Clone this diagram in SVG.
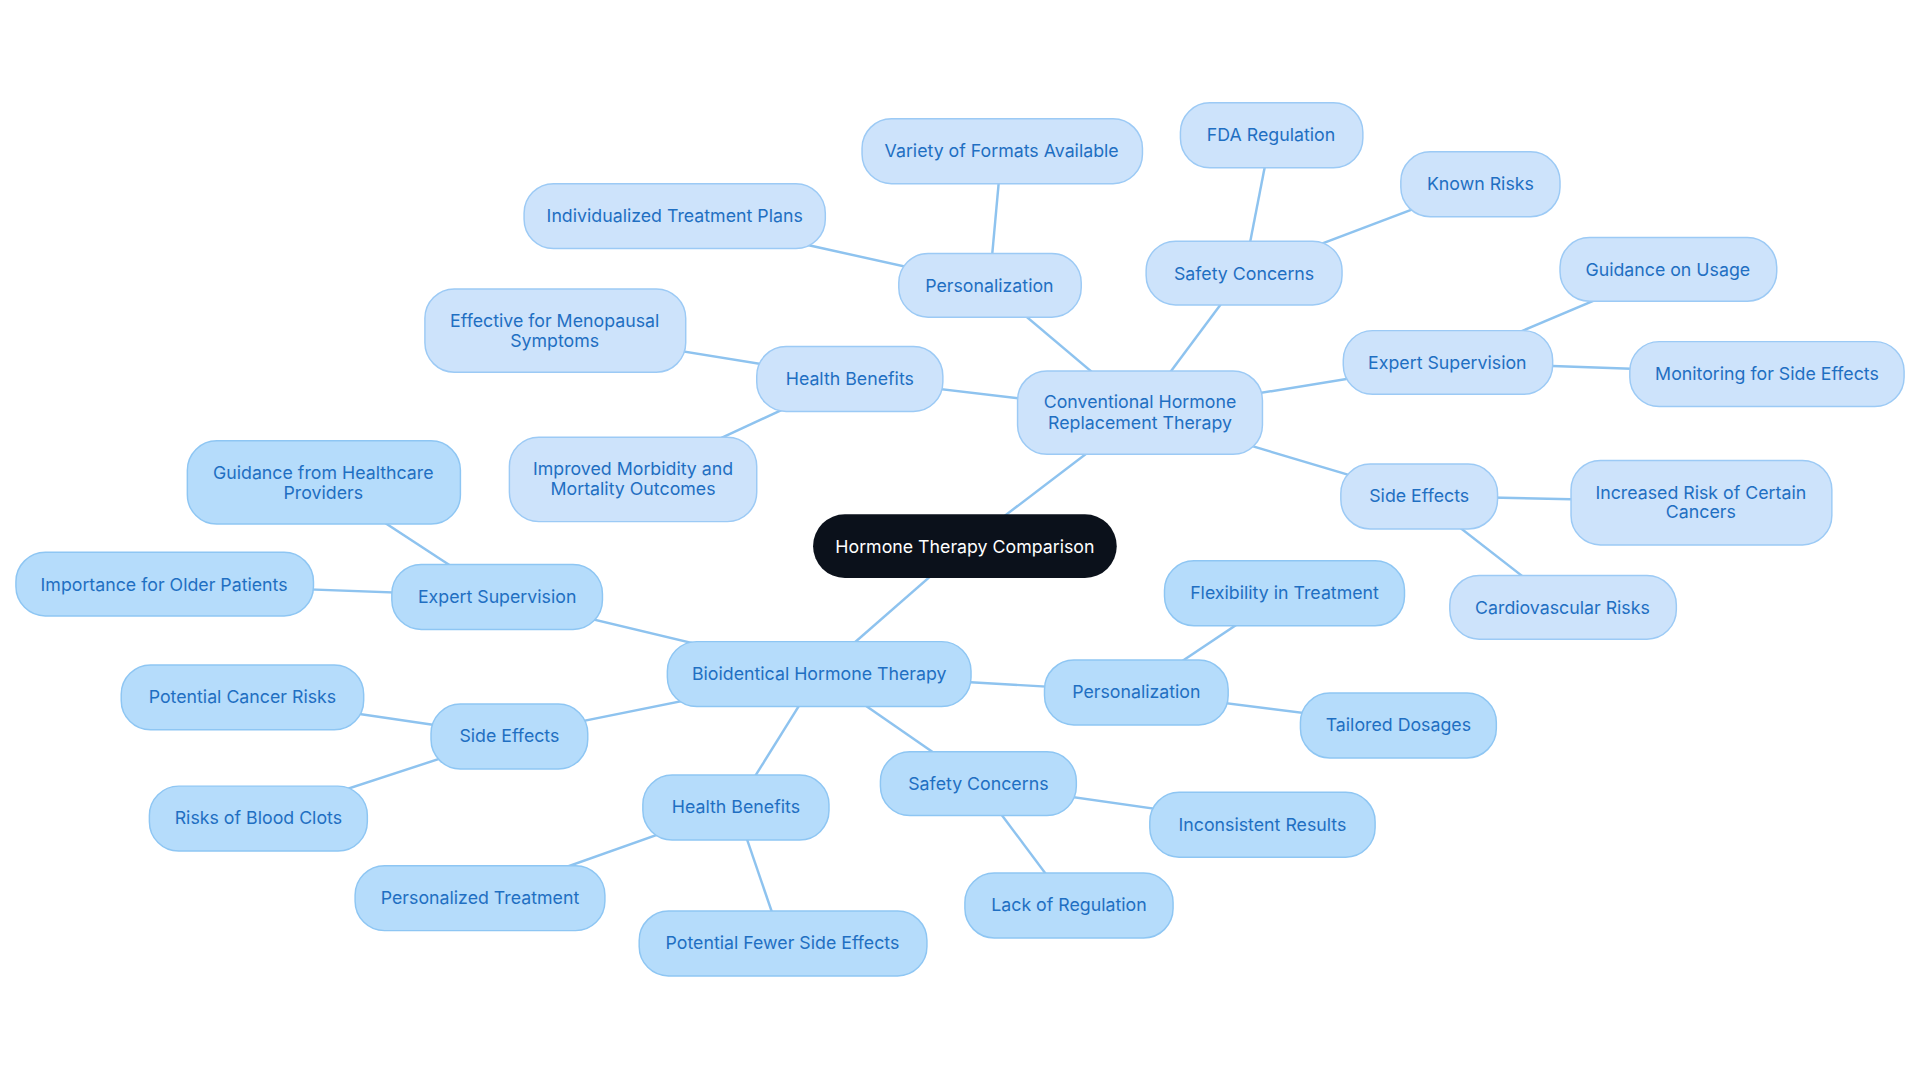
<svg xmlns="http://www.w3.org/2000/svg" width="1920" height="1083" viewBox="0 0 1920 1083">
<style>
.e line{stroke:#8ec3ef;stroke-width:2}
.c rect{fill:#cde3fb;stroke:#9ccaf5;stroke-width:1.2}
.b rect{fill:#b5dcfb;stroke:#8ec6f3;stroke-width:1.2}
text{font-family:Inter,"Noto Sans",sans-serif;font-size:14.5px;fill:#1f6fc2;text-anchor:middle;dominant-baseline:central}
#root rect{fill:#0b111b;stroke:none}
#root text{fill:#fff}
</style>
<rect width="1920" height="1083" fill="#fff"/>
<g transform="scale(1.2245)">
<g class="e">
<line x1="788" y1="446" x2="931" y2="337"/>
<line x1="788" y1="446" x2="669" y2="550"/>
<line x1="931" y1="337" x2="808" y2="233"/>
<line x1="808" y1="233" x2="818" y2="123"/>
<line x1="808" y1="233" x2="551" y2="176"/>
<line x1="931" y1="337" x2="1016" y2="223"/>
<line x1="1016" y1="223" x2="1038" y2="110"/>
<line x1="1016" y1="223" x2="1209" y2="150"/>
<line x1="931" y1="337" x2="694" y2="309"/>
<line x1="694" y1="309" x2="453" y2="270"/>
<line x1="694" y1="309" x2="517" y2="391"/>
<line x1="931" y1="337" x2="1182" y2="296"/>
<line x1="1182" y1="296" x2="1362" y2="220"/>
<line x1="1182" y1="296" x2="1443" y2="305"/>
<line x1="931" y1="337" x2="1159" y2="405"/>
<line x1="1159" y1="405" x2="1389" y2="410"/>
<line x1="1159" y1="405" x2="1276" y2="496"/>
<line x1="669" y1="550" x2="406" y2="487"/>
<line x1="406" y1="487" x2="264" y2="394"/>
<line x1="406" y1="487" x2="134" y2="477"/>
<line x1="669" y1="550" x2="416" y2="601"/>
<line x1="416" y1="601" x2="198" y2="569"/>
<line x1="416" y1="601" x2="211" y2="668"/>
<line x1="669" y1="550" x2="601" y2="659"/>
<line x1="601" y1="659" x2="392" y2="733"/>
<line x1="601" y1="659" x2="639" y2="770"/>
<line x1="669" y1="550" x2="799" y2="640"/>
<line x1="799" y1="640" x2="1031" y2="673"/>
<line x1="799" y1="640" x2="873" y2="739"/>
<line x1="669" y1="550" x2="928" y2="565"/>
<line x1="928" y1="565" x2="1049" y2="484"/>
<line x1="928" y1="565" x2="1142" y2="592"/>
</g>
<g id="root"><rect x="664" y="420" width="248" height="52" rx="26"/><text x="788" y="446">Hormone Therapy Comparison</text></g>
<g class="c">
<g id="chrt"><rect x="831" y="303" width="200" height="68" rx="24"/><text x="931" y="328">Conventional Hormone</text><text x="931" y="345">Replacement Therapy</text></g>
<g id="cpers"><rect x="734" y="207" width="149" height="52" rx="24"/><text x="808" y="233">Personalization</text></g>
<g id="cvar"><rect x="704" y="97" width="229" height="53" rx="24"/><text x="818" y="123">Variety of Formats Available</text></g>
<g id="cind"><rect x="428" y="150" width="246" height="53" rx="24"/><text x="551" y="176">Individualized Treatment Plans</text></g>
<g id="csafe"><rect x="936" y="197" width="160" height="52" rx="24"/><text x="1016" y="223">Safety Concerns</text></g>
<g id="cfda"><rect x="964" y="84" width="149" height="53" rx="24"/><text x="1038" y="110">FDA Regulation</text></g>
<g id="cknown"><rect x="1144" y="124" width="130" height="53" rx="24"/><text x="1209" y="150">Known Risks</text></g>
<g id="chb"><rect x="618" y="283" width="152" height="53" rx="24"/><text x="694" y="309">Health Benefits</text></g>
<g id="ceff"><rect x="347" y="236" width="213" height="68" rx="24"/><text x="453" y="262">Effective for Menopausal</text><text x="453" y="278">Symptoms</text></g>
<g id="cimp"><rect x="416" y="357" width="202" height="69" rx="24"/><text x="517" y="383">Improved Morbidity and</text><text x="517" y="399">Mortality Outcomes</text></g>
<g id="cexp"><rect x="1097" y="270" width="171" height="52" rx="24"/><text x="1182" y="296">Expert Supervision</text></g>
<g id="cguid"><rect x="1274" y="194" width="177" height="52" rx="24"/><text x="1362" y="220">Guidance on Usage</text></g>
<g id="cmon"><rect x="1331" y="279" width="224" height="53" rx="24"/><text x="1443" y="305">Monitoring for Side Effects</text></g>
<g id="cside"><rect x="1095" y="379" width="128" height="53" rx="24"/><text x="1159" y="405">Side Effects</text></g>
<g id="cinc"><rect x="1283" y="376" width="213" height="69" rx="24"/><text x="1389" y="402">Increased Risk of Certain</text><text x="1389" y="418">Cancers</text></g>
<g id="ccar"><rect x="1184" y="470" width="185" height="52" rx="24"/><text x="1276" y="496">Cardiovascular Risks</text></g>
</g>
<g class="b">
<g id="bhrt"><rect x="545" y="524" width="248" height="53" rx="24"/><text x="669" y="550">Bioidentical Hormone Therapy</text></g>
<g id="bexp"><rect x="320" y="461" width="172" height="53" rx="24"/><text x="406" y="487">Expert Supervision</text></g>
<g id="bguid"><rect x="153" y="360" width="223" height="68" rx="24"/><text x="264" y="386">Guidance from Healthcare</text><text x="264" y="402">Providers</text></g>
<g id="bimp"><rect x="13" y="451" width="243" height="52" rx="24"/><text x="134" y="477">Importance for Older Patients</text></g>
<g id="bside"><rect x="352" y="575" width="128" height="53" rx="24"/><text x="416" y="601">Side Effects</text></g>
<g id="bcan"><rect x="99" y="543" width="198" height="53" rx="24"/><text x="198" y="569">Potential Cancer Risks</text></g>
<g id="bclot"><rect x="122" y="642" width="178" height="53" rx="24"/><text x="211" y="668">Risks of Blood Clots</text></g>
<g id="bhb"><rect x="525" y="633" width="152" height="53" rx="24"/><text x="601" y="659">Health Benefits</text></g>
<g id="bpt"><rect x="290" y="707" width="204" height="53" rx="24"/><text x="392" y="733">Personalized Treatment</text></g>
<g id="bfew"><rect x="522" y="744" width="235" height="53" rx="24"/><text x="639" y="770">Potential Fewer Side Effects</text></g>
<g id="bsafe"><rect x="719" y="614" width="160" height="52" rx="24"/><text x="799" y="640">Safety Concerns</text></g>
<g id="bincon"><rect x="939" y="647" width="184" height="53" rx="24"/><text x="1031" y="673">Inconsistent Results</text></g>
<g id="black"><rect x="788" y="713" width="170" height="53" rx="24"/><text x="873" y="739">Lack of Regulation</text></g>
<g id="bpers"><rect x="853" y="539" width="150" height="53" rx="24"/><text x="928" y="565">Personalization</text></g>
<g id="bflex"><rect x="951" y="458" width="196" height="53" rx="24"/><text x="1049" y="484">Flexibility in Treatment</text></g>
<g id="btail"><rect x="1062" y="566" width="160" height="53" rx="24"/><text x="1142" y="592">Tailored Dosages</text></g>
</g>
</g>
</svg>
